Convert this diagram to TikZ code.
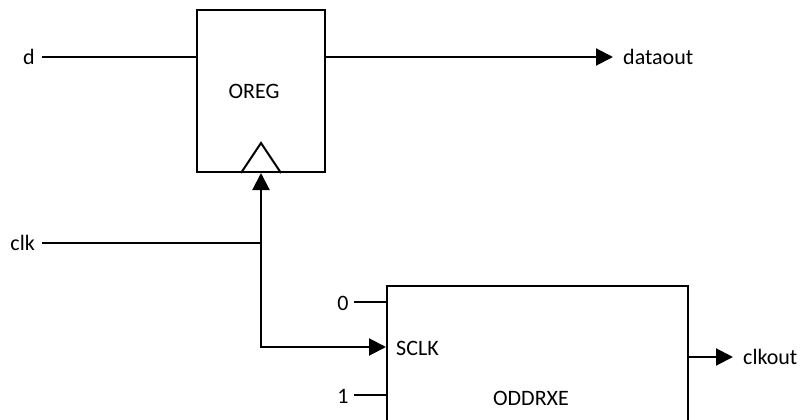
\documentclass[tikz,border=0pt]{standalone}
\usepackage{fontspec}
\setmainfont{Carlito}
\usetikzlibrary{arrows.meta}
\begin{document}
\begin{tikzpicture}[x=1pt,y=-1pt,
  wire/.style={line width=2pt,line cap=rect},
  arr/.style={line width=2pt,-{Triangle[length=17pt,width=17pt]}},
  blk/.style={draw,line width=2pt,inner sep=0pt},
  lbl/.style={inner sep=0pt,font=\fontsize{22}{26}\selectfont}]
\useasboundingbox (0,0) rectangle (801,420);
\clip (0,0) rectangle (801,420);
% blocks
\node[blk,minimum width=128pt,minimum height=162pt] (oreg) at (261,91) {};
\node[lbl] (oregt) at (254,91) {OREG};
\node[blk,minimum width=301pt,minimum height=160pt] (oddr) at (537.5,366) {};
\node[lbl] (oddrt) at (531,398) {ODDRXE};
\node[lbl,anchor=west] (sclk) at (396,348) {SCLK};
% clock triangle
\draw[line width=2pt,line join=miter] ([xshift=-20pt]oreg.south) -- ([yshift=30pt]oreg.south) -- ([xshift=20pt]oreg.south);
% labels
\node[lbl,anchor=east] (d) at (35,57) {d};
\node[lbl,anchor=east] (clk) at (35,243) {clk};
\node[lbl,anchor=west] (dout) at (623,57) {dataout};
\node[lbl,anchor=west] (ckout) at (743,357) {clkout};
\node[lbl] (zero) at (343,303) {0};
\node[lbl] (one) at (343,396) {1};
% coordinates
\coordinate (dstart) at (43,57);
\coordinate (clkstart) at (43,243);
\coordinate (j) at (261,243);
\coordinate (k) at (261,347);
\coordinate (zs) at (355,302);
\coordinate (os) at (355,395);
\coordinate (doutend) at (613,57);
\coordinate (ckend) at (733,357);
% wires
\draw[wire] (dstart) -- (dstart -| oreg.west);
\draw[arr] (oreg.east |- dstart) -- (doutend);
\draw[wire] (clkstart) -- (j);
\draw[arr] (k) -- (oreg.south);
\draw[arr] (j) |- (oddr.west |- k);
\draw[wire] (zs) -- (oddr.west |- zs);
\draw[wire] (os) -- (oddr.west |- os);
\draw[arr] (oddr.east |- ckend) -- (ckend);
\end{tikzpicture}
\end{document}
